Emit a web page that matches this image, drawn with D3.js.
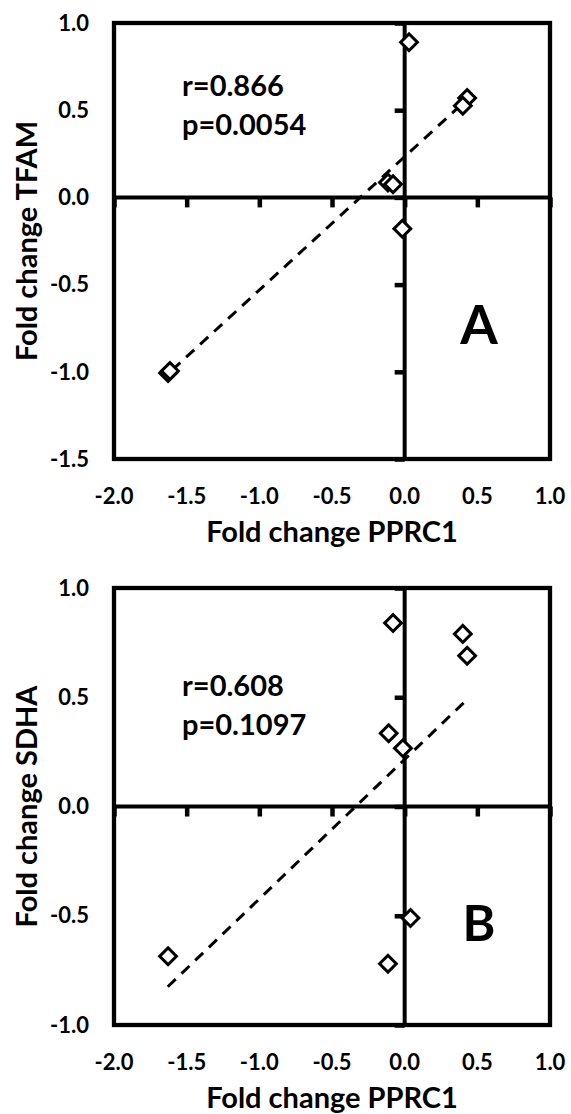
<!DOCTYPE html>
<html>
<head>
<meta charset="utf-8">
<script src="https://cdn.jsdelivr.net/npm/d3@7"></script>
<style>
  body { margin: 0; background: #fff; }
  svg text { font-family: Lato, "Open Sans", sans-serif; font-weight: 700; fill: #000; }
</style>
</head>
<body>
<div id="chart"></div>
<script>
// tick values
const xTicks = [-2.0, -1.5, -1.0, -0.5, 0.0, 0.5, 1.0];
const yTicksA = [1.0, 0.5, 0.0, -0.5, -1.0, -1.5];
const yTicksB = [1.0, 0.5, 0.0, -0.5, -1.0];

// panel A: PPRC1 vs TFAM
const pprc1A = [0.03, 0.43, 0.40, -0.115, -0.08, -0.016, -1.628, -1.615];
const tfamA  = [0.89, 0.57, 0.525, 0.085, 0.075, -0.18, -1.007, -0.995];
const trendA = [[-1.60, -0.99], [0.44, 0.57]];
const statsA = ["r=0.866", "p=0.0054"];

// panel B: PPRC1 vs SDHA
const pprc1B = [-0.08, 0.40, 0.43, -0.11, -0.012, 0.04, -0.115, -1.628];
const sdhaB  = [0.84, 0.79, 0.69, 0.335, 0.267, -0.51, -0.72, -0.685];
const trendB = [[-1.63, -0.825], [0.43, 0.49]];
const statsB = ["r=0.608", "p=0.1097"];

const width = 571, height = 1114;

const svg = d3.select("#chart").append("svg")
    .attr("width", width)
    .attr("height", height);

// plain hyphen for negatives, like the original
const fmt = d => d.toFixed(1);

function drawPanel(cfg) {
    const x = d3.scaleLinear().domain([-2, 1]).range([114, 550]);
    const y = d3.scaleLinear().domain(cfg.yDomain).range([cfg.bottom, cfg.top]);
    const g = svg.append("g");

    // zero lines
    g.append("line")
        .attr("x1", x(-2)).attr("x2", x(1))
        .attr("y1", y(0)).attr("y2", y(0))
        .attr("stroke", "#000").attr("stroke-width", 4);
    g.append("line")
        .attr("x1", x(0)).attr("x2", x(0))
        .attr("y1", y(cfg.yDomain[0])).attr("y2", y(cfg.yDomain[1]))
        .attr("stroke", "#000").attr("stroke-width", 4);

    // inner ticks on the zero lines
    const xAx = g.append("g")
        .attr("transform", `translate(0,${y(0)})`)
        .call(d3.axisBottom(x).tickValues(xTicks).tickSize(10).tickSizeOuter(0).tickFormat(""));
    const yAx = g.append("g")
        .attr("transform", `translate(${x(0)},0)`)
        .call(d3.axisLeft(y).tickValues(cfg.yTicks).tickSize(10).tickSizeOuter(0).tickFormat(""));
    [xAx, yAx].forEach(a => {
        a.select(".domain").remove();
        a.selectAll(".tick line").attr("stroke", "#000").attr("stroke-width", 4.5);
    });

    // frame
    g.append("rect")
        .attr("x", x(-2)).attr("y", y(cfg.yDomain[1]))
        .attr("width", x(1) - x(-2))
        .attr("height", y(cfg.yDomain[0]) - y(cfg.yDomain[1]))
        .attr("fill", "none").attr("stroke", "#000").attr("stroke-width", 4.3);

    // tick labels
    g.selectAll(".xl").data(xTicks).enter().append("text")
        .attr("x", d => x(d))
        .attr("y", cfg.bottom + 37)
        .attr("dy", "0.35em")
        .attr("text-anchor", "middle")
        .style("font-size", "22px")
        .text(fmt);
    g.selectAll(".yl").data(cfg.yTicks).enter().append("text")
        .attr("x", 89)
        .attr("y", d => y(d))
        .attr("dy", "0.35em")
        .attr("text-anchor", "end")
        .style("font-size", "22px")
        .text(fmt);

    // axis titles
    g.append("text")
        .attr("x", (x(-2) + x(1)) / 2)
        .attr("y", cfg.bottom + 83)
        .attr("text-anchor", "middle")
        .style("font-size", "29px")
        .text("Fold change PPRC1");
    g.append("text")
        .attr("transform", `translate(37,${(cfg.top + cfg.bottom) / 2}) rotate(-90)`)
        .attr("text-anchor", "middle")
        .style("font-size", "29px")
        .text(cfg.yTitle);

    // trend line
    g.append("path")
        .datum(cfg.trend)
        .attr("d", d3.line().x(d => x(d[0])).y(d => y(d[1])))
        .attr("fill", "none")
        .attr("stroke", "#000")
        .attr("stroke-width", 3)
        .attr("stroke-dasharray", "11,8");

    // points
    const pts = cfg.xs.map((v, i) => [v, cfg.ys[i]]);
    g.selectAll(".pt").data(pts).enter().append("path")
        .attr("d", d3.symbol(d3.symbolSquare, 141))
        .attr("transform", d => `translate(${x(d[0])},${y(d[1])}) rotate(45)`)
        .attr("fill", "#fff")
        .attr("stroke", "#000")
        .attr("stroke-width", 3);

    // stats text
    g.selectAll(".st").data(cfg.stats).enter().append("text")
        .attr("x", 182)
        .attr("y", (d, i) => cfg.statY + i * 39)
        .style("font-size", "29px")
        .text(d => d);

    // panel letter
    g.append("text")
        .attr("x", 479)
        .attr("y", cfg.letterY)
        .attr("text-anchor", "middle")
        .style("font-size", cfg.letterSize)
        .text(cfg.letter);
}

drawPanel({
    xs: pprc1A, ys: tfamA, trend: trendA, stats: statsA,
    yDomain: [-1.5, 1], yTicks: yTicksA, top: 23, bottom: 459,
    yTitle: "Fold change TFAM", statY: 96, letter: "A", letterY: 344, letterSize: "54px"
});

drawPanel({
    xs: pprc1B, ys: sdhaB, trend: trendB, stats: statsB,
    yDomain: [-1, 1], yTicks: yTicksB, top: 588, bottom: 1025,
    yTitle: "Fold change SDHA", statY: 696, letter: "B", letterY: 941, letterSize: "50px"
});
</script>
</body>
</html>
